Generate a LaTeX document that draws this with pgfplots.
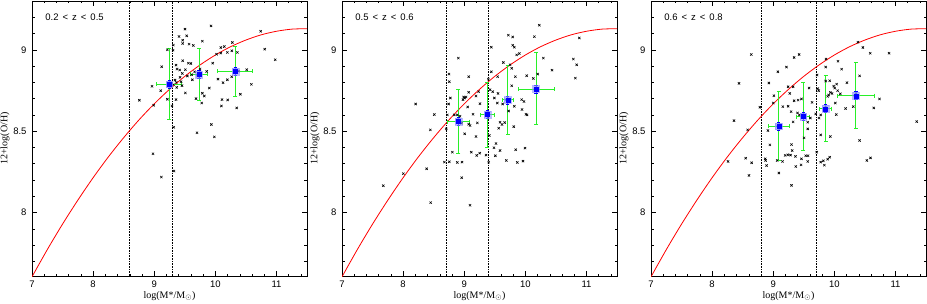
\documentclass[border=0pt]{standalone}
\usepackage{pgfplots}
\pgfplotsset{compat=1.18}
\usepackage{pgfplotstable}
\usepackage{fontspec}
\setmainfont{Liberation Serif}
\newfontfamily\sansf{Liberation Sans}
\definecolor{errgreen}{RGB}{40,240,40}

% scatter data, panel 1 (0.2<z<0.5)
\pgfplotstableread{
x y
9.504 9.127
9.93 9.147
9.406 9.082
9.531 9.086
10.742 9.114
9.466 9.059
9.466 9.039
9.57 9.035
9.788 9.053
9.64 9.027
9.313 9.029
9.215 9.0
9.308 8.998
10.09 9.014
10.147 9.02
10.279 9.045
10.808 9.004
10.197 8.984
10.09 8.98
10.361 8.984
10.27 8.994
10.02 8.973
9.466 8.933
9.559 8.918
9.60 8.916
9.957 8.918
9.357 8.906
9.122 8.896
9.51 8.878
9.75 8.882
9.859 8.867
9.662 8.865
10.513 8.878
10.382 8.869
10.98 8.939
10.59 8.788
9.373 8.882
9.417 8.876
9.613 8.847
9.711 8.839
9.624 8.816
9.46 8.855
9.542 8.839
9.422 8.831
9.34 8.814
9.362 8.80
9.439 8.804
9.368 8.769
9.455 8.78
9.106 8.749
8.964 8.776
9.313 8.786
10.126 8.798
10.044 8.82
10.268 8.835
10.197 8.816
10.41 8.727
9.51 8.735
9.902 8.765
9.788 8.733
9.82 8.716
9.777 8.673
9.684 8.70
9.357 8.694
9.215 8.696
8.991 8.659
8.757 8.69
10.11 8.694
10.202 8.692
10.099 8.655
10.35 8.643
9.291 8.655
9.319 8.524
9.935 8.541
9.70 8.49
9.984 8.465
8.98 8.361
9.117 8.218
9.324 8.255
}\dataA

% scatter data, panel 2 (0.5<z<0.6)
\pgfplotstableread{
x y
10.229 9.151
9.722 9.090
9.793 9.079
10.148 9.081
10.884 9.073
9.444 9.016
9.793 9.028
9.820 9.016
9.902 8.977
9.858 8.969
8.904 8.949
10.295 8.949
10.786 8.943
9.640 8.922
9.749 8.908
10.84 8.908
9.777 8.886
10.437 8.875
9.395 8.82
9.547 8.835
9.444 8.865
9.837 8.835
10.022 8.841
9.073 8.835
8.751 8.851
8.756 8.804
10.131 8.824
10.202 8.851
10.819 8.826
9.777 8.779
9.422 8.755
9.466 8.743
9.553 8.732
9.493 8.704
9.542 8.673
9.236 8.743
9.073 8.739
8.991 8.710
9.029 8.710
8.98 8.694
9.193 8.716
8.773 8.704
8.745 8.667
9.056 8.649
8.838 8.60
8.724 8.60
8.511 8.602
8.205 8.667
8.887 8.60
8.931 8.592
9.007 8.704
9.144 8.604
9.258 8.669
9.94 8.694
9.978 8.682
9.946 8.633
10.011 8.604
10.028 8.60
9.629 8.667
9.82 8.653
9.727 8.624
9.618 8.541
9.662 8.553
9.586 8.555
9.215 8.551
9.073 8.543
8.958 8.549
9.095 8.535
8.445 8.508
8.707 8.514
9.007 8.484
9.193 8.467
9.411 8.473
9.564 8.518
9.81 8.528
9.52 8.424
9.487 8.398
9.586 8.381
9.842 8.386
9.995 8.396
9.509 8.349
9.689 8.320
9.869 8.308
9.962 8.316
9.116 8.371
9.253 8.365
9.357 8.353
9.204 8.351
8.806 8.371
8.756 8.312
8.887 8.308
8.964 8.31
8.675 8.31
9.40 8.31
8.958 8.214
8.385 8.269
8.004 8.239
7.676 8.165
8.451 8.061
9.095 8.045
}\dataB

% scatter data, panel 3 (0.6<z<0.8)
\pgfplotstableread{
x y
10.386 9.047
10.467 9.014
10.587 8.979
10.896 8.979
8.641 8.971
9.424 8.971
9.342 8.953
9.864 8.943
10.06 8.930
9.217 8.894
9.858 8.894
10.119 8.881
9.076 8.865
9.717 8.845
10.413 8.840
9.858 8.808
9.924 8.810
8.929 8.796
8.44 8.794
10.206 8.798
9.244 8.773
9.326 8.773
9.587 8.765
9.728 8.761
9.744 8.749
10.038 8.789
9.989 8.777
10.005 8.765
10.054 8.749
9.935 8.738
9.907 8.722
9.891 8.714
9.962 8.732
10.098 8.730
9.271 8.732
9.011 8.718
9.407 8.691
9.462 8.698
9.342 8.687
9.636 8.677
9.0 8.673
9.244 8.653
9.157 8.651
10.016 8.673
10.184 8.639
10.31 8.651
10.739 8.698
10.646 8.643
8.782 8.647
9.293 8.62
9.397 8.612
9.429 8.60
9.695 8.606
9.777 8.60
9.75 8.581
9.608 8.581
9.326 8.557
9.565 8.555
10.032 8.602
8.358 8.565
8.581 8.508
8.913 8.504
9.565 8.514
9.777 8.477
9.935 8.467
10.413 8.443
8.945 8.416
9.299 8.418
9.505 8.459
9.31 8.381
9.239 8.355
9.283 8.353
9.195 8.351
9.532 8.349
9.57 8.349
9.364 8.345
9.712 8.371
8.869 8.330
8.875 8.320
9.065 8.320
9.152 8.314
9.462 8.330
9.565 8.314
9.924 8.340
9.891 8.328
9.82 8.318
9.777 8.310
9.837 8.291
10.592 8.336
10.532 8.320
8.646 8.306
8.261 8.314
8.891 8.289
9.369 8.283
9.456 8.293
8.549 8.334
8.603 8.228
9.092 8.243
9.299 8.167
11.348 8.559
}\dataC

% mass-metallicity relation
\pgfplotstableread{
x y
7.00 7.605
7.25 7.772
7.50 7.929
7.75 8.076
8.00 8.214
8.25 8.342
8.50 8.460
8.75 8.569
9.00 8.668
9.25 8.757
9.50 8.837
9.75 8.907
10.00 8.968
10.25 9.019
10.50 9.060
10.75 9.092
11.00 9.114
11.25 9.127
11.50 9.130
}\mzr

\pgfplotsset{panel/.style={
  width=275pt, height=275pt, scale only axis,
  xmin=7, xmax=11.5, ymin=7.61, ymax=9.3,
  xtick={7,8,9,10,11}, ytick={8,8.5,9},
  minor xtick={7.2,7.4,7.6,7.8,8.2,8.4,8.6,8.8,9.2,9.4,9.6,9.8,10.2,10.4,10.6,10.8,11.2,11.4},
  minor ytick={7.7,7.8,7.9,8.1,8.2,8.3,8.4,8.6,8.7,8.8,8.9,9.1,9.2},
  tick align=inside, major tick length=5pt, minor tick length=2.5pt,
  tick style={black, line width=0.5pt},
  /pgf/number format/assume math mode=true,
  ticklabel style={font=\sansf\fontsize{9.5}{10}\selectfont},
  xticklabel style={yshift=-1pt},
  yticklabel style={xshift=-2pt},
  xlabel={log(M*/M$_\odot$)}, ylabel={12+log(O/H)},
  label style={font=\fontsize{10}{11}\selectfont},
  xlabel style={at={(axis description cs:0.5,-0.073)}, anchor=center},
  ylabel style={at={(axis description cs:-0.098,0.5)}, anchor=center},
  axis line style={line width=0.6pt},
},
scat/.style={only marks, mark=x, mark size=1.6pt, black, mark options={line width=0.6pt}},
vline/.style={black, densely dotted, line width=0.6pt, forget plot},
mzrline/.style={red, line width=0.8pt, smooth, mark=none},
gbars/.style={errgreen, only marks, mark=none, line width=0.9pt, error bars/.cd, x dir=both, x explicit, y dir=both, y explicit,
  error bar style={color=errgreen, line width=0.9pt, solid},
  error mark options={rotate=90, color=errgreen, mark size=2pt, line width=0.9pt}},
bbars/.style={blue, only marks, mark=none, error bars/.cd, y dir=both, y fixed=0.025,
  error bar style={color=blue, line width=0.6pt},
  error mark options={rotate=90, color=blue, mark size=1.6pt, line width=0.6pt}},
halo/.style={only marks, mark=square*, mark size=3.4pt, blue!45, opacity=0.6},
bsq/.style={only marks, mark=square*, mark size=2pt, blue},
}

\begin{document}
\begin{tikzpicture}
\useasboundingbox (0,0) rectangle (927pt,303pt);

% ---------------- panel 1
\begin{axis}[panel, at={(32pt,27pt)}, anchor=south west]
\addplot[scat] table {\dataA};
\addplot[vline] coordinates {(8.6,7.61) (8.6,9.3)};
\addplot[vline] coordinates {(9.3,7.61) (9.3,9.3)};
\addplot[mzrline] table {\mzr};
\addplot[gbars] coordinates {
 (9.245,8.789) += (0.205,0.219) -= (0.205,0.219)
 (9.733,8.849) += (0.14,0.157) -= (0.14,0.159)
 (10.327,8.867) += (0.28,0.151) -= (0.29,0.151)
};
\addplot[bbars] coordinates {(9.245,8.789) (9.733,8.849) (10.327,8.867)};
\addplot[halo] coordinates {(9.245,8.789) (9.733,8.849) (10.327,8.867)};
\addplot[bsq] coordinates {(9.245,8.789) (9.733,8.849) (10.327,8.867)};
\node[anchor=west, font=\sansf\fontsize{9.5}{10}\selectfont] at (axis description cs:0.036,0.942) {0.2\hspace{4pt}<\hspace{4pt}z\hspace{4pt}<\hspace{4pt}0.5};
\end{axis}

% ---------------- panel 2
\begin{axis}[panel, at={(342pt,27pt)}, anchor=south west]
\addplot[scat] table {\dataB};
\addplot[vline] coordinates {(8.7,7.61) (8.7,9.3)};
\addplot[vline] coordinates {(9.4,7.61) (9.4,9.3)};
\addplot[mzrline] table {\mzr};
\addplot[gbars] coordinates {
 (8.904,8.559) += (0.176,0.200) -= (0.184,0.198)
 (9.378,8.602) += (0.115,0.200) -= (0.114,0.200)
 (9.712,8.692) += (0.092,0.214) -= (0.093,0.213)
 (10.175,8.759) += (0.30,0.224) -= (0.29,0.220)
};
\addplot[bbars] coordinates {(8.904,8.559) (9.378,8.602) (9.712,8.692) (10.175,8.759)};
\addplot[halo] coordinates {(8.904,8.559) (9.378,8.602) (9.712,8.692) (10.175,8.759)};
\addplot[bsq] coordinates {(8.904,8.559) (9.378,8.602) (9.712,8.692) (10.175,8.759)};
\node[anchor=west, font=\sansf\fontsize{9.5}{10}\selectfont] at (axis description cs:0.036,0.942) {0.5\hspace{4pt}<\hspace{4pt}z\hspace{4pt}<\hspace{4pt}0.6};
\end{axis}

% ---------------- panel 3
\begin{axis}[panel, at={(651pt,27pt)}, anchor=south west]
\addplot[scat] table {\dataC};
\addplot[vline] coordinates {(8.8,7.61) (8.8,9.3)};
\addplot[vline] coordinates {(9.7,7.61) (9.7,9.3)};
\addplot[mzrline] table {\mzr};
\addplot[gbars] coordinates {
 (9.092,8.530) += (0.179,0.217) -= (0.174,0.210)
 (9.489,8.589) += (0.108,0.209) -= (0.109,0.208)
 (9.858,8.638) += (0.093,0.207) -= (0.103,0.200)
 (10.353,8.718) += (0.304,0.202) -= (0.299,0.204)
};
\addplot[bbars] coordinates {(9.092,8.530) (9.489,8.589) (9.858,8.638) (10.353,8.718)};
\addplot[halo] coordinates {(9.092,8.530) (9.489,8.589) (9.858,8.638) (10.353,8.718)};
\addplot[bsq] coordinates {(9.092,8.530) (9.489,8.589) (9.858,8.638) (10.353,8.718)};
\node[anchor=west, font=\sansf\fontsize{9.5}{10}\selectfont] at (axis description cs:0.036,0.942) {0.6\hspace{4pt}<\hspace{4pt}z\hspace{4pt}<\hspace{4pt}0.8};
\end{axis}
\end{tikzpicture}
\end{document}
